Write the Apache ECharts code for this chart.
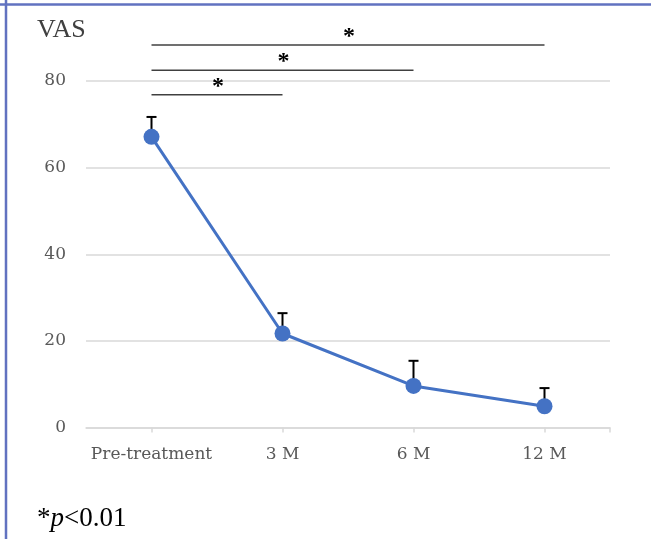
<!DOCTYPE html>
<html><head><meta charset="utf-8">
<script src="https://cdn.jsdelivr.net/npm/echarts@6/dist/echarts.min.js"></script>
<style>html,body{margin:0;padding:0;background:#fff}#c{width:651px;height:539px}</style>
</head><body><div id="c"></div>
<script>
const categories = ['Pre-treatment', '3 M', '6 M', '12 M'];
const vasMean = [67.1, 21.7, 9.6, 4.9];
const vasSD = [4.6, 4.7, 5.8, 4.2];
const yTicks = [0, 20, 40, 60, 80];
const brackets = [
  {from: 0, to: 1, level: 76.8, label: '*'},
  {from: 0, to: 2, level: 82.5, label: '*'},
  {from: 0, to: 3, level: 88.3, label: '*'}
];

const chart = echarts.init(document.getElementById('c'), null, {renderer: 'canvas'});
const tickFont = 'DejaVu Serif';
chart.setOption({
  animation: false,
  grid: {left: 86, right: 41, top: 81, bottom: 111.5, containLabel: false},
  xAxis: {
    type: 'category', data: categories, boundaryGap: true,
    axisLine: {show: true, lineStyle: {color: '#d9d9d9', width: 1.5}},
    axisTick: {show: true, alignWithLabel: true, interval: 0, length: 5, lineStyle: {color: '#d9d9d9', width: 1.5}},
    axisLabel: {color: '#595959', fontFamily: tickFont, fontSize: 17, margin: 19, interval: 0}
  },
  yAxis: {
    type: 'value', min: yTicks[0], max: yTicks[yTicks.length - 1], interval: yTicks[1] - yTicks[0],
    axisLine: {show: false}, axisTick: {show: false},
    splitLine: {lineStyle: {color: '#d9d9d9', width: 1.5}},
    axisLabel: {color: '#595959', fontFamily: tickFont, fontSize: 17, margin: 20}
  },
  series: [
    {
      type: 'custom', z: 1,
      data: vasMean.map((v, i) => [i, v, vasSD[i]]),
      renderItem: function (params, api) {
        const i = api.value(0), v = api.value(1), e = api.value(2);
        const p0 = api.coord([i, v]);
        const p1 = api.coord([i, v + e]);
        const cap = 5;
        return {type: 'group', children: [
          {type: 'line', shape: {x1: p0[0], y1: p0[1], x2: p1[0], y2: p1[1]}, style: {stroke: '#000', lineWidth: 2}},
          {type: 'line', shape: {x1: p1[0] - cap, y1: p1[1], x2: p1[0] + cap, y2: p1[1]}, style: {stroke: '#000', lineWidth: 2}}
        ]};
      }
    },
    {
      type: 'line', z: 3, data: vasMean,
      symbol: 'circle', symbolSize: 16,
      lineStyle: {color: '#4472C4', width: 3},
      itemStyle: {color: '#4472C4'}
    }
  ]
});

const graphics = [
  {type: 'line', shape: {x1: 6, y1: 0, x2: 6, y2: 539}, style: {stroke: '#6172c0', lineWidth: 2.5}},
  {type: 'line', shape: {x1: 0, y1: 4.5, x2: 651, y2: 4.5}, style: {stroke: '#6172c0', lineWidth: 2.5}},
  {type: 'text', left: 37, top: 17, style: {text: 'VAS', font: '26px "Liberation Serif"', fill: '#404040'}},
  {type: 'text', left: 37, top: 505, style: {
    text: '{a|*}{b|p}{a|<0.01}',
    rich: {a: {fontFamily: 'Liberation Serif', fontSize: 27, fill: '#000'}, b: {fontFamily: 'Liberation Serif', fontSize: 27, fontStyle: 'italic', fill: '#000'}}
  }}
];
// end tick at right edge of the category axis
const last = categories.length - 1;
const pl = chart.convertToPixel({gridIndex: 0}, [last, 0]);
const pp = chart.convertToPixel({gridIndex: 0}, [last - 1, 0]);
const xEnd = pl[0] + (pl[0] - pp[0]) / 2;
graphics.push({type: 'line', shape: {x1: xEnd, y1: pl[1], x2: xEnd, y2: pl[1] + 5}, style: {stroke: '#d9d9d9', lineWidth: 1.5}});

brackets.forEach(b => {
  const a = chart.convertToPixel({gridIndex: 0}, [b.from, b.level]);
  const c = chart.convertToPixel({gridIndex: 0}, [b.to, b.level]);
  graphics.push({type: 'line', shape: {x1: a[0], y1: a[1], x2: c[0], y2: c[1]}, style: {stroke: '#404040', lineWidth: 1.5}});
  graphics.push({type: 'text', x: (a[0] + c[0]) / 2 + 1, y: a[1] + 4, style: {text: b.label, font: 'bold 24px "Liberation Serif"', fill: '#000', align: 'center', verticalAlign: 'bottom'}});
});
chart.setOption({graphic: graphics});
</script>
</body></html>
